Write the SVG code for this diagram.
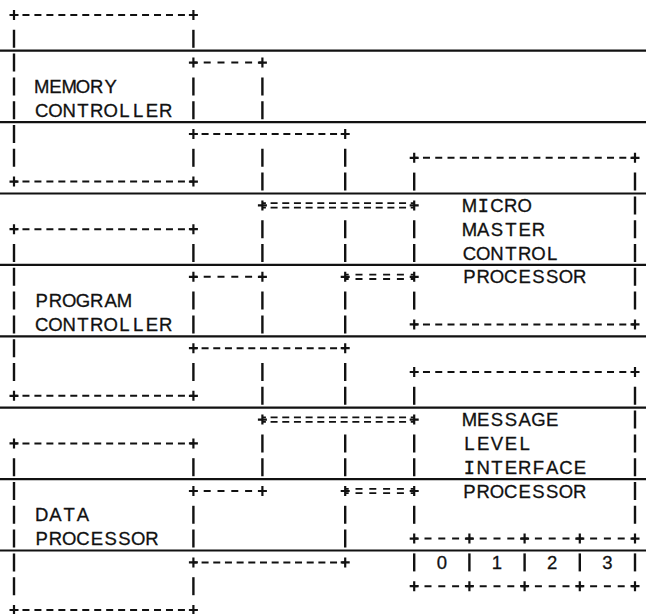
<svg xmlns="http://www.w3.org/2000/svg" xmlns:xlink="http://www.w3.org/1999/xlink" width="646" height="614" viewBox="0 0 646 614">
<style>
  .rule{stroke:#111;stroke-width:2.2;fill:none}
  .v{stroke:#111;stroke-width:2.4;fill:none;stroke-dasharray:18 5.8;stroke-dashoffset:20.9}
  .h{stroke:#111;stroke-width:2;fill:none;stroke-dashoffset:3.5}
  .h179{stroke-dasharray:7 4.96}
  .h152{stroke-dasharray:7 4.68}
  .h69{stroke-dasharray:7 6.8}
  .h55{stroke-dasharray:7 6.8}
  .h221{stroke-dasharray:7 5.27}
  .e{stroke:#111;stroke-width:1.8;fill:none;stroke-dashoffset:3.5}
  .t{font-family:"Liberation Sans",Arial,sans-serif;font-size:18.5px;fill:#111;stroke:#111;stroke-width:0.3;text-anchor:middle}
  .i{font-family:"DejaVu Sans Mono",monospace;font-size:18.5px}
  .d{font-family:"Liberation Sans",Arial,sans-serif;font-size:18.5px;fill:#111;stroke:#111;stroke-width:0.3;text-anchor:middle}
</style>
<defs>
  <path id="p" d="M-4.5 0H4.5M0 -5V5" stroke="#111" stroke-width="2.2" fill="none"/>
</defs>
<rect width="646" height="614" fill="#fff"/>

<g id="rules">
  <path class="rule" d="M0 50.7H646M0 122.1H646M0 193.5H646M0 264.9H646M0 336.3H646M0 407.7H646M0 479.1H646M0 550.5H646"/>
</g>

<g id="memory-controller">
  <line class="h h179" x1="14" y1="15" x2="193.4" y2="15"/>
  <line class="h h179" x1="14" y1="181.6" x2="193.4" y2="181.6"/>
  <line class="v" x1="14" y1="26.9" x2="14" y2="169.7"/>
  <line class="v" x1="193.4" y1="26.9" x2="193.4" y2="50.7"/>
  <line class="v" x1="193.4" y1="74.5" x2="193.4" y2="122.1"/>
  <line class="v" x1="193.4" y1="145.9" x2="193.4" y2="169.7"/>
  <use xlink:href="#p" x="14" y="15"/><use xlink:href="#p" x="193.4" y="15"/>
  <use xlink:href="#p" x="14" y="181.6"/><use xlink:href="#p" x="193.4" y="181.6"/>
  <use xlink:href="#p" x="193.4" y="62.6"/><use xlink:href="#p" x="193.4" y="134"/>
  <text class="t" x="41.6 55.4 69.2 83 96.8 110.6" y="93">MEMORY</text>
  <text class="t" x="41.6 55.4 69.2 83 96.8 110.6 124.4 138.2 152 165.8" y="116.8">CONTROLLER</text>
</g>

<g id="program-controller">
  <line class="h h179" x1="14" y1="229.2" x2="193.4" y2="229.2"/>
  <line class="h h179" x1="14" y1="395.8" x2="193.4" y2="395.8"/>
  <line class="v" x1="14" y1="241.1" x2="14" y2="383.9"/>
  <line class="v" x1="193.4" y1="241.1" x2="193.4" y2="264.9"/>
  <line class="v" x1="193.4" y1="288.7" x2="193.4" y2="336.3"/>
  <line class="v" x1="193.4" y1="360.1" x2="193.4" y2="383.9"/>
  <use xlink:href="#p" x="14" y="229.2"/><use xlink:href="#p" x="193.4" y="229.2"/>
  <use xlink:href="#p" x="14" y="395.8"/><use xlink:href="#p" x="193.4" y="395.8"/>
  <use xlink:href="#p" x="193.4" y="276.8"/><use xlink:href="#p" x="193.4" y="348.2"/>
  <text class="t" x="41.6 55.4 69.2 83 96.8 110.6 124.4" y="307.2">PROGRAM</text>
  <text class="t" x="41.6 55.4 69.2 83 96.8 110.6 124.4 138.2 152 165.8" y="331">CONTROLLER</text>
</g>

<g id="data-processor">
  <line class="h h179" x1="14" y1="443.4" x2="193.4" y2="443.4"/>
  <line class="h h179" x1="14" y1="610" x2="193.4" y2="610"/>
  <line class="v" x1="14" y1="455.3" x2="14" y2="598.1"/>
  <line class="v" x1="193.4" y1="455.3" x2="193.4" y2="479.1"/>
  <line class="v" x1="193.4" y1="502.9" x2="193.4" y2="550.5"/>
  <line class="v" x1="193.4" y1="574.3" x2="193.4" y2="598.1"/>
  <use xlink:href="#p" x="14" y="443.4"/><use xlink:href="#p" x="193.4" y="443.4"/>
  <use xlink:href="#p" x="14" y="610"/><use xlink:href="#p" x="193.4" y="610"/>
  <use xlink:href="#p" x="193.4" y="491"/><use xlink:href="#p" x="193.4" y="562.4"/>
  <text class="t" x="41.6 55.4 69.2 83" y="521.4">DATA</text>
  <text class="t" x="41.6 55.4 69.2 83 96.8 110.6 124.4 138.2 152" y="545.2">PROCESSOR</text>
</g>

<g id="micro-master-control-processor">
  <line class="h h221" x1="414.2" y1="157.8" x2="635" y2="157.8"/>
  <line class="h h221" x1="414.2" y1="324.4" x2="635" y2="324.4"/>
  <line class="v" x1="414.2" y1="169.7" x2="414.2" y2="193.5"/>
  <line class="v" x1="414.2" y1="217.3" x2="414.2" y2="264.9"/>
  <line class="v" x1="414.2" y1="288.7" x2="414.2" y2="312.5"/>
  <line class="v" x1="635" y1="169.7" x2="635" y2="312.5"/>
  <use xlink:href="#p" x="414.2" y="157.8"/><use xlink:href="#p" x="635" y="157.8"/>
  <use xlink:href="#p" x="414.2" y="324.4"/><use xlink:href="#p" x="635" y="324.4"/>
  <use xlink:href="#p" x="414.2" y="205.4"/><use xlink:href="#p" x="414.2" y="276.8"/>
  <text class="t" x="469.4 483.2 497 510.8 524.6" y="212">M<tspan class="i">I</tspan>CRO</text>
  <text class="t" x="469.4 483.2 497 510.8 524.6 538.4" y="235.8">MASTER</text>
  <text class="t" x="469.4 483.2 497 510.8 524.6 538.4 552.2" y="259.6">CONTROL</text>
  <text class="t" x="469.4 483.2 497 510.8 524.6 538.4 552.2 566 579.8" y="283.4">PROCESSOR</text>
</g>

<g id="message-level-interface-processor">
  <line class="h h221" x1="414.2" y1="372" x2="635" y2="372"/>
  <line class="h h55" x1="414.2" y1="538.6" x2="469.4" y2="538.6"/>
  <line class="h h55" x1="469.4" y1="538.6" x2="524.6" y2="538.6"/>
  <line class="h h55" x1="524.6" y1="538.6" x2="579.8" y2="538.6"/>
  <line class="h h55" x1="579.8" y1="538.6" x2="635" y2="538.6"/>
  <line class="v" x1="414.2" y1="383.9" x2="414.2" y2="407.7"/>
  <line class="v" x1="414.2" y1="431.5" x2="414.2" y2="479.1"/>
  <line class="v" x1="414.2" y1="502.9" x2="414.2" y2="526.7"/>
  <line class="v" x1="635" y1="383.9" x2="635" y2="526.7"/>
  <use xlink:href="#p" x="414.2" y="372"/><use xlink:href="#p" x="635" y="372"/>
  <use xlink:href="#p" x="414.2" y="419.6"/><use xlink:href="#p" x="414.2" y="491"/>
  <text class="t" x="469.4 483.2 497 510.8 524.6 538.4 552.2" y="426.2">MESSAGE</text>
  <text class="t" x="469.4 483.2 497 510.8 524.6" y="450">LEVEL</text>
  <text class="t" x="469.4 483.2 497 510.8 524.6 538.4 552.2 566 579.8" y="473.8"><tspan class="i">I</tspan>NTERFACE</text>
  <text class="t" x="469.4 483.2 497 510.8 524.6 538.4 552.2 566 579.8" y="497.6">PROCESSOR</text>
  <g id="ports">
    <line class="h h55" x1="414.2" y1="586.2" x2="469.4" y2="586.2"/>
    <line class="h h55" x1="469.4" y1="586.2" x2="524.6" y2="586.2"/>
    <line class="h h55" x1="524.6" y1="586.2" x2="579.8" y2="586.2"/>
    <line class="h h55" x1="579.8" y1="586.2" x2="635" y2="586.2"/>
    <line class="v" x1="414.2" y1="550.5" x2="414.2" y2="574.3"/>
    <line class="v" x1="469.4" y1="550.5" x2="469.4" y2="574.3"/>
    <line class="v" x1="524.6" y1="550.5" x2="524.6" y2="574.3"/>
    <line class="v" x1="579.8" y1="550.5" x2="579.8" y2="574.3"/>
    <line class="v" x1="635" y1="550.5" x2="635" y2="574.3"/>
    <use xlink:href="#p" x="414.2" y="538.6"/><use xlink:href="#p" x="469.4" y="538.6"/>
    <use xlink:href="#p" x="524.6" y="538.6"/><use xlink:href="#p" x="579.8" y="538.6"/>
    <use xlink:href="#p" x="635" y="538.6"/>
    <use xlink:href="#p" x="414.2" y="586.2"/><use xlink:href="#p" x="469.4" y="586.2"/>
    <use xlink:href="#p" x="524.6" y="586.2"/><use xlink:href="#p" x="579.8" y="586.2"/>
    <use xlink:href="#p" x="635" y="586.2"/>
    <text class="d" x="441.8" y="569">0</text>
    <text class="d" x="497" y="569">1</text>
    <text class="d" x="552.2" y="569">2</text>
    <text class="d" x="607.4" y="569">3</text>
  </g>
</g>

<g id="connectors">
  <line class="h h69" x1="193.4" y1="62.6" x2="262.4" y2="62.6"/>
  <line class="h h152" x1="193.4" y1="134" x2="345.2" y2="134"/>
  <line class="e h152" x1="262.4" y1="203.2" x2="414.2" y2="203.2"/>
  <line class="e h152" x1="262.4" y1="207.6" x2="414.2" y2="207.6"/>
  <line class="h h69" x1="193.4" y1="276.8" x2="262.4" y2="276.8"/>
  <line class="e h69" x1="345.2" y1="274.6" x2="414.2" y2="274.6"/>
  <line class="e h69" x1="345.2" y1="279" x2="414.2" y2="279"/>
  <line class="h h152" x1="193.4" y1="348.2" x2="345.2" y2="348.2"/>
  <line class="e h152" x1="262.4" y1="417.4" x2="414.2" y2="417.4"/>
  <line class="e h152" x1="262.4" y1="421.8" x2="414.2" y2="421.8"/>
  <line class="h h69" x1="193.4" y1="491" x2="262.4" y2="491"/>
  <line class="e h69" x1="345.2" y1="488.8" x2="414.2" y2="488.8"/>
  <line class="e h69" x1="345.2" y1="493.2" x2="414.2" y2="493.2"/>
  <line class="h h152" x1="193.4" y1="562.4" x2="345.2" y2="562.4"/>

  <line class="v" x1="262.4" y1="74.5" x2="262.4" y2="122.1"/>
  <line class="v" x1="262.4" y1="145.9" x2="262.4" y2="193.5"/>
  <line class="v" x1="262.4" y1="217.3" x2="262.4" y2="264.9"/>
  <line class="v" x1="262.4" y1="288.7" x2="262.4" y2="336.3"/>
  <line class="v" x1="262.4" y1="360.1" x2="262.4" y2="407.7"/>
  <line class="v" x1="262.4" y1="431.5" x2="262.4" y2="479.1"/>

  <line class="v" x1="345.2" y1="145.9" x2="345.2" y2="193.5"/>
  <line class="v" x1="345.2" y1="217.3" x2="345.2" y2="264.9"/>
  <line class="v" x1="345.2" y1="288.7" x2="345.2" y2="336.3"/>
  <line class="v" x1="345.2" y1="360.1" x2="345.2" y2="407.7"/>
  <line class="v" x1="345.2" y1="431.5" x2="345.2" y2="479.1"/>
  <line class="v" x1="345.2" y1="502.9" x2="345.2" y2="550.5"/>

  <use xlink:href="#p" x="262.4" y="62.6"/>
  <use xlink:href="#p" x="345.2" y="134"/>
  <use xlink:href="#p" x="262.4" y="205.4"/>
  <use xlink:href="#p" x="262.4" y="276.8"/>
  <use xlink:href="#p" x="345.2" y="276.8"/>
  <use xlink:href="#p" x="345.2" y="348.2"/>
  <use xlink:href="#p" x="262.4" y="419.6"/>
  <use xlink:href="#p" x="262.4" y="491"/>
  <use xlink:href="#p" x="345.2" y="491"/>
  <use xlink:href="#p" x="345.2" y="562.4"/>
</g>
</svg>
